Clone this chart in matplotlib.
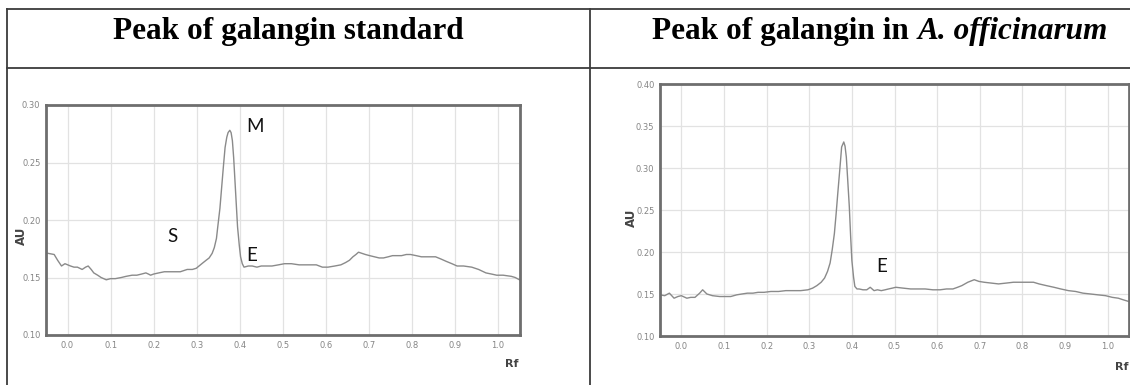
import matplotlib
matplotlib.use("Agg")
import matplotlib.pyplot as plt
from matplotlib.lines import Line2D

# densitogram of galangin standard (left)
std_rf = [-0.05, -0.045, -0.031, -0.023, -0.014, -0.006, 0.007, 0.015, 0.023, 0.034, 0.042,
          0.048, 0.055, 0.061, 0.07, 0.078, 0.09, 0.1, 0.111, 0.125, 0.136, 0.15, 0.161, 0.172,
          0.182, 0.188, 0.193, 0.2, 0.212, 0.225, 0.237, 0.25, 0.262, 0.27, 0.278, 0.29,
          0.299, 0.312, 0.322, 0.329, 0.336, 0.341, 0.346, 0.349, 0.354, 0.358, 0.362, 0.366,
          0.37, 0.373, 0.377, 0.38, 0.383, 0.386, 0.389, 0.392, 0.395, 0.399, 0.402, 0.406,
          0.41, 0.42, 0.429, 0.44, 0.45, 0.462, 0.475, 0.49, 0.504, 0.52, 0.538, 0.55, 0.563,
          0.578, 0.592, 0.605, 0.621, 0.635, 0.646, 0.655, 0.663, 0.67, 0.676, 0.684, 0.692,
          0.702, 0.713, 0.724, 0.734, 0.745, 0.755, 0.766, 0.776, 0.787, 0.797, 0.81, 0.822,
          0.838, 0.855, 0.868, 0.88, 0.893, 0.905, 0.92, 0.939, 0.955, 0.972, 0.985, 0.997,
          1.012, 1.031, 1.04, 1.05]
std_au = [0.171, 0.171, 0.170, 0.165, 0.160, 0.162, 0.160, 0.159, 0.159, 0.157, 0.159,
          0.160, 0.157, 0.154, 0.152, 0.150, 0.148, 0.149, 0.149, 0.150, 0.151, 0.152, 0.152, 0.153,
          0.154, 0.153, 0.152, 0.153, 0.154, 0.155, 0.155, 0.155, 0.155, 0.156, 0.157, 0.157,
          0.158, 0.162, 0.165, 0.167, 0.171, 0.176, 0.184, 0.194, 0.21, 0.228, 0.246, 0.263,
          0.272, 0.276, 0.278, 0.276, 0.269, 0.254, 0.234, 0.214, 0.194, 0.178, 0.168, 0.162,
          0.159, 0.160, 0.160, 0.159, 0.160, 0.160, 0.160, 0.161, 0.162, 0.162, 0.161, 0.161, 0.161,
          0.161, 0.159, 0.159, 0.160, 0.161, 0.163, 0.165, 0.168, 0.170, 0.172, 0.171, 0.170,
          0.169, 0.168, 0.167, 0.167, 0.168, 0.169, 0.169, 0.169, 0.170, 0.170, 0.169, 0.168,
          0.168, 0.168, 0.166, 0.164, 0.162, 0.160, 0.160, 0.159, 0.157, 0.154, 0.153, 0.152,
          0.152, 0.151, 0.150, 0.148]

# densitogram of A. officinarum extract (right)
ext_rf = [-0.05, -0.039, -0.028, -0.017, -0.008, 0.0, 0.013, 0.022, 0.032, 0.043, 0.05,
          0.06, 0.073, 0.09, 0.1, 0.116, 0.13, 0.142, 0.155, 0.168, 0.18, 0.194, 0.21, 0.228,
          0.245, 0.262, 0.28, 0.297, 0.308, 0.318, 0.328, 0.336, 0.343, 0.349, 0.354, 0.359,
          0.363, 0.367, 0.372, 0.376, 0.381, 0.384, 0.387, 0.39, 0.394, 0.397, 0.4, 0.404,
          0.407, 0.412, 0.417, 0.426, 0.435, 0.443, 0.452, 0.46, 0.469, 0.478, 0.486, 0.495,
          0.503, 0.52, 0.538, 0.555, 0.572, 0.59, 0.607, 0.622, 0.637, 0.648, 0.658, 0.672,
          0.687, 0.698, 0.71, 0.727, 0.744, 0.762, 0.779, 0.796, 0.813, 0.826, 0.839, 0.856,
          0.874, 0.89, 0.908, 0.925, 0.942, 0.96, 0.977, 0.995, 1.011, 1.025, 1.037, 1.05]
ext_au = [0.149, 0.148, 0.151, 0.145, 0.147, 0.148, 0.145, 0.146, 0.146, 0.151, 0.155,
          0.150, 0.148, 0.147, 0.147, 0.147, 0.149, 0.150, 0.151, 0.151, 0.152, 0.152, 0.153, 0.153,
          0.154, 0.154, 0.154, 0.155, 0.157, 0.160, 0.164, 0.169, 0.177, 0.187, 0.203, 0.222,
          0.245, 0.270, 0.300, 0.325, 0.331, 0.326, 0.313, 0.288, 0.254, 0.220, 0.190, 0.170,
          0.159, 0.156, 0.156, 0.155, 0.155, 0.158, 0.154, 0.155, 0.154, 0.155, 0.156, 0.157,
          0.158, 0.157, 0.156, 0.156, 0.156, 0.155, 0.155, 0.156, 0.156, 0.158, 0.160, 0.164,
          0.167, 0.165, 0.164, 0.163, 0.162, 0.163, 0.164, 0.164, 0.164, 0.164, 0.162, 0.160,
          0.158, 0.156, 0.154, 0.153, 0.151, 0.150, 0.149, 0.148, 0.146, 0.145, 0.143, 0.141]

x_ticks = [0.0, 0.1, 0.2, 0.3, 0.4, 0.5, 0.6, 0.7, 0.8, 0.9, 1.0]
std_yticks = [0.10, 0.15, 0.20, 0.25, 0.30]
ext_yticks = [0.10, 0.15, 0.20, 0.25, 0.30, 0.35, 0.40]

W, H = 1130, 385
fig = plt.figure(figsize=(W / 100, H / 100), dpi=100)


def px(x, y):
    # pixel (from top-left) -> figure fraction
    return x / W, 1 - y / H


def chart(rect, rf, au, yticks):
    ax = fig.add_axes(rect)
    ax.plot(rf, au, color="#8a8a8a", lw=1.0)
    ax.set_xlim(-0.05, 1.05)
    ax.set_ylim(yticks[0], yticks[-1])
    ax.set_xticks(x_ticks)
    ax.set_yticks(yticks)
    ax.set_xticklabels([f"{t:.1f}" for t in x_ticks])
    ax.set_yticklabels([f"{t:.2f}" for t in yticks])
    ax.tick_params(length=0, labelsize=6, labelcolor="#858585", pad=4)
    ax.grid(True, color="#e2e2e2", lw=0.9)
    for s in ax.spines.values():
        s.set_color("#6e6e6e")
        s.set_linewidth(2)
    ax.set_ylabel("AU", fontsize=8.5, fontweight="bold", color="#444444")
    ax.text(1.033, -0.105, "Rf", transform=ax.get_xaxis_transform(), fontsize=8,
            fontweight="bold", color="#444444", ha="center", va="top")
    return ax


ax1 = chart([46 / W, 50 / H, 473.5 / W, 230 / H], std_rf, std_au, std_yticks)
ax1.yaxis.set_label_coords(-0.039, 0.43)
ann = dict(fontsize=13.5, family="Lato", color="#111111", ha="center", va="center")
ax1.text(0.436, 0.281, "M", **ann)
ax1.text(0.243, 0.186, "S", **ann)
ax1.text(0.427, 0.169, "E", **ann)

ax2 = chart([660 / W, 49 / H, 469 / W, 252 / H], ext_rf, ext_au, ext_yticks)
ax2.yaxis.set_label_coords(-0.048, 0.47)
ax2.text(0.471, 0.183, "E", **ann)

# table borders
lc = "#3c3c3c"
for (xa, ya), (xb, yb) in [((7, 9), (W, 9)), ((7, 68), (W, 68)),
                           ((7, 9), (7, H)), ((590, 9), (590, H))]:
    fig.add_artist(Line2D([xa / W, xb / W], [1 - ya / H, 1 - yb / H],
                          color=lc, lw=1.3, transform=fig.transFigure))

# headers
tfont = dict(family="Liberation Serif", fontweight="bold", fontsize=22.5, color="black",
             va="baseline")
fig.text(*px(288, 39), "Peak of galangin standard", ha="center", **tfont)

renderer = fig.canvas.get_renderer()
t1 = fig.text(0, 0, "Peak of galangin in ", ha="left", **tfont)
t2 = fig.text(0, 0, "A. officinarum", ha="left", style="italic", **tfont)
w1 = t1.get_window_extent(renderer).width
w2 = t2.get_window_extent(renderer).width
start = 880 - (w1 + w2) / 2
t1.set_position(px(start, 39))
t2.set_position(px(start + w1, 39))

fig.savefig("out.png", dpi=100)
